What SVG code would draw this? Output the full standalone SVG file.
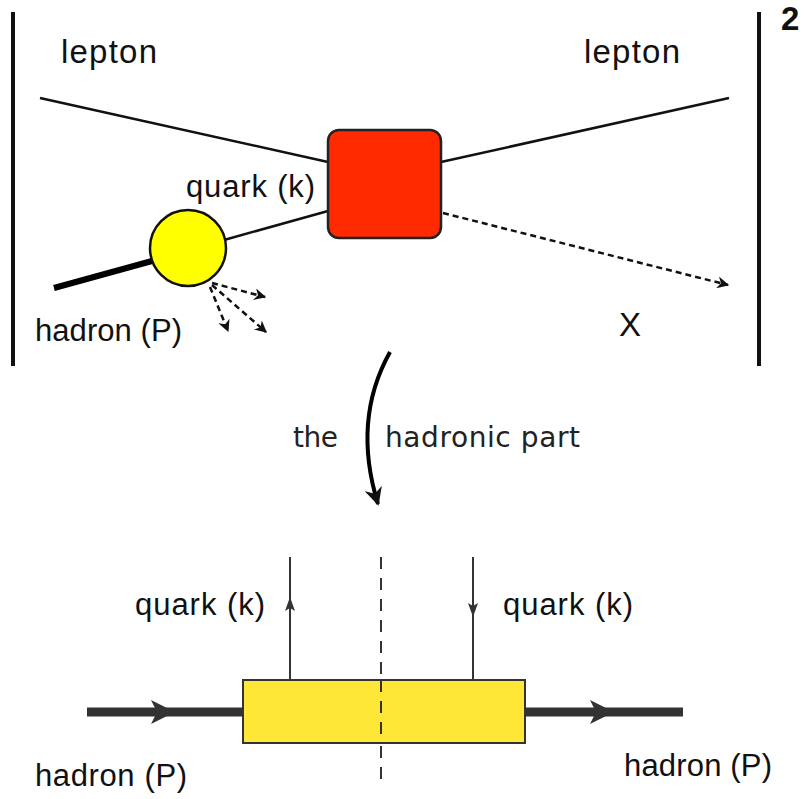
<svg xmlns="http://www.w3.org/2000/svg" width="804" height="799" viewBox="0 0 804 799">
<defs>
<marker id="ahs" viewBox="0 0 10 10" refX="9" refY="5" markerWidth="12" markerHeight="12" orient="auto" markerUnits="userSpaceOnUse">
<path d="M0,0 L10,5 L0,10 L3,5 Z" fill="#111"/>
</marker>
<marker id="ahb" viewBox="0 0 10 10" refX="9" refY="5" markerWidth="18" markerHeight="18" orient="auto" markerUnits="userSpaceOnUse">
<path d="M0,0 L10,5 L0,10 L3,5 Z" fill="#111"/>
</marker>
</defs>
<style>
text{font-family:"Liberation Sans",Arial,sans-serif;fill:#111}
.t{font-size:33px}
.s{font-size:31px}
.h{font-family:"DejaVu Sans",Verdana,sans-serif;font-size:28px;fill:#222}
.thin{stroke:#111;stroke-width:2.5;fill:none}
.dash{stroke:#111;stroke-width:2.5;fill:none;stroke-dasharray:6,4}
</style>
<rect width="804" height="799" fill="#fff"/>
<g id="connectors">
<line x1="13" y1="12" x2="13" y2="366" stroke="#111" stroke-width="4"/>
<line x1="759" y1="12" x2="759" y2="366" stroke="#111" stroke-width="4"/>
<line class="thin" x1="40" y1="98" x2="328" y2="162"/>
<line class="thin" x1="441" y1="162" x2="729" y2="98"/>
<line class="dash" x1="443" y1="213" x2="728" y2="285" marker-end="url(#ahs)"/>
<line class="thin" x1="224" y1="240" x2="328" y2="211"/>
<line x1="54" y1="288" x2="152" y2="261" stroke="#000" stroke-width="6"/>
<line class="dash" x1="212" y1="283" x2="265" y2="297" marker-end="url(#ahs)"/>
<line class="dash" x1="212" y1="285" x2="266" y2="332" marker-end="url(#ahs)"/>
<line class="dash" x1="210" y1="287" x2="228" y2="331" marker-end="url(#ahs)"/>
<path d="M390,352 Q352,420 378,504" stroke="#000" stroke-width="4" fill="none" marker-end="url(#ahb)"/>
<line x1="290" y1="557" x2="290" y2="680" stroke="#333" stroke-width="2"/>
<path d="M290,597 L285,611 L290,608 L295,611 Z" fill="#333"/>
<line x1="473" y1="557" x2="473" y2="680" stroke="#333" stroke-width="2"/>
<path d="M473,617 L468,603 L473,606 L478,603 Z" fill="#333"/>
<line x1="381" y1="557" x2="381" y2="780" stroke="#333" stroke-width="2" stroke-dasharray="12,9"/>
<line x1="87" y1="712" x2="243" y2="712" stroke="#333" stroke-width="9"/>
<path d="M175,712 L151,700 L157,712 L151,724 Z" fill="#333"/>
<line x1="525" y1="712" x2="683" y2="712" stroke="#333" stroke-width="9"/>
<path d="M614,712 L590,700 L596,712 L590,724 Z" fill="#333"/>
</g>
<g id="hard">
<rect x="328" y="130" width="113" height="108" rx="11" fill="#ff2a00" stroke="#222" stroke-width="2.5"/>
</g>
<g id="blob">
<circle cx="188" cy="248" r="38" fill="#ffff00" stroke="#111" stroke-width="2.5"/>
</g>
<g id="box">
<rect x="243" y="680" width="282" height="63" fill="#ffe737" stroke="#333" stroke-width="2"/>
<line x1="381" y1="680" x2="381" y2="743" stroke="#333" stroke-width="2" stroke-dasharray="12,9"/>
</g>
<g id="labels">
<text class="t" x="61" y="63" textLength="96">lepton</text>
<text class="t" x="584" y="63" textLength="96">lepton</text>
<text class="t" x="781" y="30" font-weight="bold">2</text>
<text class="s" x="186" y="197" textLength="129">quark (k)</text>
<text class="s" x="35" y="341" textLength="147">hadron (P)</text>
<text class="t" x="619" y="336">X</text>
<text class="h" x="293" y="447" textLength="45">the</text>
<text class="h" x="385" y="447" textLength="195">hadronic part</text>
<text class="s" x="135" y="615" textLength="130">quark (k)</text>
<text class="s" x="503" y="615" textLength="130">quark (k)</text>
<text class="s" x="35" y="786" textLength="152">hadron (P)</text>
<text class="s" x="624" y="776" textLength="148">hadron (P)</text>
</g>
</svg>
